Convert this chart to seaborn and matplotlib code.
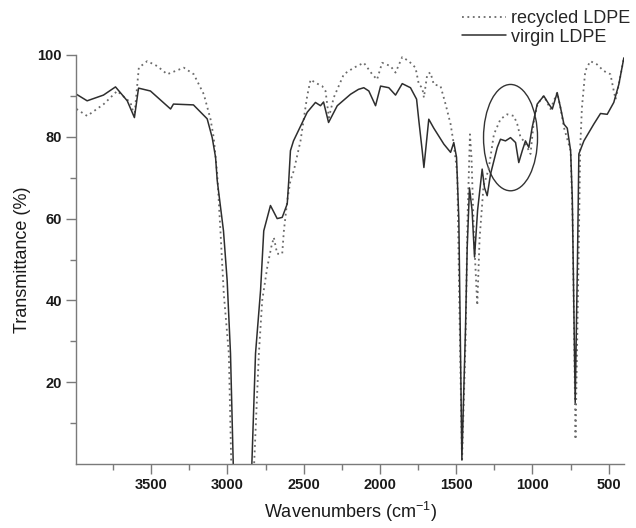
import matplotlib
matplotlib.use("Agg")
import matplotlib.pyplot as plt
import seaborn as sns
import pandas as pd
from matplotlib.patches import Ellipse
from matplotlib.ticker import FixedLocator

# ---- data ----
virgin_wn = [3990, 3920, 3813, 3734, 3657, 3610, 3583, 3505, 3373, 3354, 3223, 3133, 3100, 3078,
             3067, 3026, 3002, 2980, 2962, 2920, 2870, 2840, 2816, 2783, 2762, 2718, 2674, 2641,
             2608, 2598, 2587, 2567, 2477, 2423, 2390, 2370, 2337, 2280, 2193, 2141, 2106, 2073,
             2029, 1996, 1942, 1898, 1854, 1800, 1760, 1745, 1723, 1712, 1680, 1647, 1581, 1537,
             1516, 1498, 1483, 1463, 1439, 1428, 1413, 1396, 1380, 1360, 1330, 1315, 1297, 1275,
             1231, 1210, 1177, 1144, 1111, 1090, 1067, 1046, 1024, 1002, 969, 926, 893, 870, 838,
             816, 794, 772, 750, 739, 720, 705, 696, 663, 598, 554, 510, 467, 434, 401]
virgin_t = [90.4, 88.8, 90.2, 92.2, 88.8, 84.7, 91.9, 91.2, 86.8, 88.0, 87.8, 84.4, 79.8, 75.0,
            69.3, 57.0, 44.9, 27.0, 0.0, -5.0, -5.0, 0.0, 27.0, 42.4, 57.0, 63.2, 60.0, 60.3,
            63.6, 69.3, 76.6, 79.0, 86.0, 88.4, 87.6, 88.5, 83.5, 87.6, 90.4, 91.6, 92.0, 91.2,
            87.6, 92.4, 92.0, 90.2, 93.0, 92.0, 89.2, 83.9, 76.6, 72.5, 84.3, 82.1, 78.2, 76.2,
            78.6, 75.0, 60.0, 1.0, 33.5, 53.0, 67.5, 62.0, 50.6, 62.0, 72.1, 67.6, 65.6, 70.9,
            77.4, 79.4, 79.0, 79.8, 78.6, 73.7, 76.6, 79.0, 77.4, 82.3, 88.0, 90.0, 88.0, 86.8, 90.8,
            87.1, 83.1, 82.1, 76.6, 65.0, 15.0, 50.0, 75.8, 79.0, 83.1, 85.7, 85.5, 88.4, 92.8, 99.3]

recycled_wn = [3990, 3920, 3811, 3767, 3723, 3636, 3610, 3581, 3526, 3461, 3395, 3286, 3221, 3155,
               3111, 3090, 3067, 3046, 3024, 2991, 2975, 2930, 2860, 2825, 2794, 2772, 2739, 2713,
               2696, 2674, 2641, 2630, 2608, 2587, 2565, 2521, 2477, 2455, 2423, 2379, 2357, 2335,
               2303, 2237, 2171, 2106, 2051, 2019, 1986, 1931, 1898, 1854, 1811, 1767, 1745, 1723,
               1712, 1690, 1669, 1647, 1603, 1570, 1537, 1516, 1493, 1480, 1462, 1439, 1426, 1410,
               1400, 1383, 1362, 1347, 1321, 1288, 1253, 1210, 1166, 1122, 1100, 1078, 1057, 1034,
               1013, 991, 967, 926, 882, 838, 816, 794, 750, 737, 718, 698, 687, 676, 654, 621, 577,
               533, 489, 467, 455, 434, 401]
recycled_t = [86.8, 85.1, 88.0, 89.6, 91.2, 88.4, 85.1, 96.9, 98.5, 97.3, 95.3, 96.9, 95.3, 90.4,
              84.3, 79.8, 70.9, 57.0, 41.6, 27.0, 0.0, -5.0, -5.0, 0.0, 27.0, 40.0, 48.1, 53.0,
              55.4, 51.4, 51.4, 57.0, 64.4, 69.3, 71.7, 79.0, 90.0, 94.0, 93.2, 92.4, 91.2, 84.7,
              89.6, 95.3, 96.9, 98.1, 95.3, 94.0, 98.1, 97.3, 95.7, 99.5, 98.5, 96.9, 92.8, 92.0,
              89.6, 95.3, 95.7, 92.8, 92.4, 88.0, 83.1, 78.2, 70.9, 40.0, 0.5, 30.0, 60.0, 80.6,
              75.0, 55.0, 38.8, 55.0, 68.0, 72.0, 80.6, 84.3, 85.5, 85.1, 83.1, 79.8, 79.0, 77.4,
              75.8, 83.9, 88.0, 90.0, 86.8, 90.8, 87.0, 82.3, 76.6, 60.0, 6.0, 50.0, 77.4, 87.1,
              96.1, 98.5, 97.7, 96.1, 95.3, 91.2, 89.2, 92.8, 99.3]

series_names = ["recycled LDPE", "virgin LDPE"]
x_major = [3500, 3000, 2500, 2000, 1500, 1000, 500]
x_minor = [3750, 3250, 2750, 2250, 1750, 1250, 750]
y_major = [20, 40, 60, 80, 100]
y_minor = [10, 30, 50, 70, 90]
circle_center = (1144, 79.8)
circle_size = (354, 26)

# ---- figure ----
sns.set_theme(style="white")
plt.rcParams["font.family"] = ["Liberation Sans", "DejaVu Sans"]
plt.rcParams["mathtext.fontset"] = "custom"
plt.rcParams["mathtext.rm"] = "Liberation Sans"
plt.rcParams["mathtext.default"] = "regular"

fig = plt.figure(figsize=(6.36, 5.28), dpi=100)
ax = fig.add_axes([76 / 636, 1 - 464 / 528, (624 - 76) / 636, (464 - 55) / 528])

df_r = pd.DataFrame({"wn": recycled_wn, "T": recycled_t})
df_v = pd.DataFrame({"wn": virgin_wn, "T": virgin_t})

sns.lineplot(data=df_r, x="wn", y="T", ax=ax, sort=False, color="#6a6a6a",
             linestyle=(0, (1, 2)), linewidth=1.3, label=series_names[0], legend=False)
sns.lineplot(data=df_v, x="wn", y="T", ax=ax, sort=False, color="#2e2e2e",
             linewidth=1.1, label=series_names[1], legend=False)

ell = Ellipse(circle_center, circle_size[0], circle_size[1], fill=False,
              edgecolor="#333333", linewidth=1.0)
ax.add_patch(ell)

ax.set_xlim(3993, 400)
ax.set_ylim(0, 100)

ax.xaxis.set_major_locator(FixedLocator(x_major))
ax.xaxis.set_minor_locator(FixedLocator(x_minor))
ax.yaxis.set_major_locator(FixedLocator(y_major))
ax.yaxis.set_minor_locator(FixedLocator(y_minor))

for s in ["top", "right"]:
    ax.spines[s].set_visible(False)
for s in ["left", "bottom"]:
    ax.spines[s].set_color("#7a7a7a")
    ax.spines[s].set_linewidth(1.0)

ax.tick_params(axis="both", which="major", direction="out", length=7, width=1.0,
               color="#7a7a7a", labelsize=10.5, pad=3, bottom=True, left=True)
ax.tick_params(axis="both", which="minor", direction="out", length=4, width=1.0,
               color="#7a7a7a", bottom=True, left=True)
for lab in ax.get_xticklabels() + ax.get_yticklabels():
    lab.set_fontweight("bold")
    lab.set_color("#1a1a1a")

ax.set_xlabel("Wavenumbers (cm$^{-1}$)", fontsize=13, color="#1a1a1a", labelpad=6)
ax.set_ylabel("Transmittance (%)", fontsize=13, color="#1a1a1a", labelpad=5)

handles, labels = ax.get_legend_handles_labels()
fig.legend(handles, labels, loc="upper left", bbox_to_anchor=(455 / 636, 0.995),
           frameon=False, fontsize=13, handlelength=2.4, handletextpad=0.3,
           labelspacing=0.1, borderaxespad=0.0)

fig.savefig("out.png", dpi=100)
